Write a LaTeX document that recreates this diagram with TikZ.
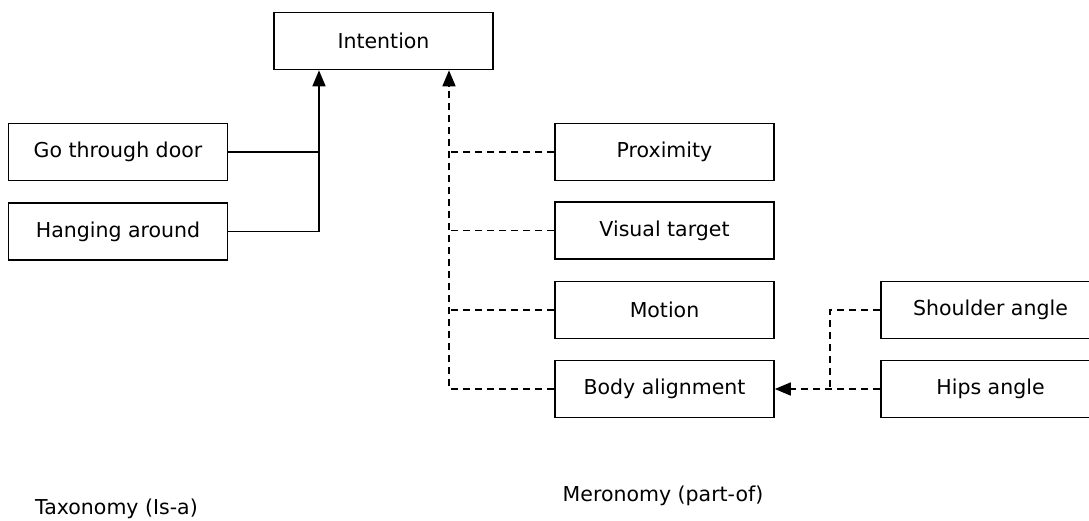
\documentclass[tikz,border=0pt]{standalone}
\usepackage{fontspec}
\setmainfont{DejaVu Sans}
\usetikzlibrary{arrows.meta}
\begin{document}
\begin{tikzpicture}[x=1pt,y=-1pt,
  box/.style={draw, line width=1.6pt, minimum width=219pt, minimum height=57pt, inner sep=0pt, font=\fontsize{20.5}{24}\selectfont},
  lbl/.style={inner sep=0pt, font=\fontsize{20.5}{24}\selectfont},
  conn/.style={line width=1.6pt},
  dconn/.style={line width=1.6pt, dash pattern=on 7pt off 5pt},
  tip/.style={-{Triangle[length=16pt,width=13pt]}}]
\clip (0,0) rectangle (1089,520);
\node[box] (int) at (383.5,41) {Intention};
\node[box] (go) at (118,152) {Go through door};
\node[box] (hang) at (118,231.5) {Hanging around};
\node[box] (prox) at (664.5,152) {Proximity};
\node[box] (vis) at (664.5,230.5) {Visual target};
\node[box] (mot) at (664.5,310) {Motion};
\node[box] (body) at (664.5,389) {Body alignment};
\node[box] (sh) at (990.5,310) {Shoulder angle};
\node[box] (hips) at (990.5,389) {Hips angle};
\node[lbl] (tax) at (116.5,509) {Taxonomy (Is-a)};
\node[lbl] (mer) at (663,495.5) {Meronomy (part-of)};
\coordinate (j1) at (319,0);
\coordinate (j2) at (449,0);
\coordinate (j3) at (830,0);
\draw[conn] (go.east) -- (go.east -| j1);
\draw[conn,tip] (hang.east) -| (int.south -| j1);
\draw[dconn,tip] (body.west) -| (int.south -| j2);
\draw[dconn] (prox.west) -- (prox.west -| j2);
\draw[dconn] (vis.west) -- (vis.west -| j2);
\draw[dconn] (mot.west) -- (mot.west -| j2);
\draw[dconn] (sh.west) -| (hips.west -| j3);
\draw[dconn,tip] (hips.west) -- (body.east);
\end{tikzpicture}
\end{document}
